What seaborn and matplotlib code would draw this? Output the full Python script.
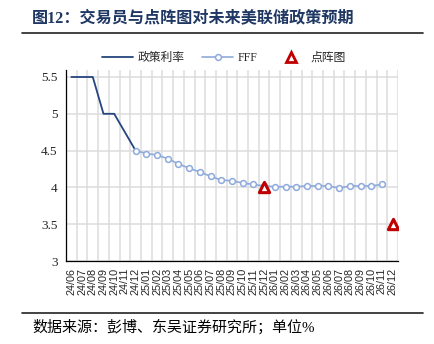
import numpy as np
import pandas as pd
import matplotlib
matplotlib.use("Agg")
import matplotlib.pyplot as plt
from matplotlib.lines import Line2D
import seaborn as sns

# Month labels on the category axis
months = ["24/06", "24/07", "24/08", "24/09", "24/10", "24/11", "24/12",
          "25/01", "25/02", "25/03", "25/04", "25/05", "25/06", "25/07",
          "25/08", "25/09", "25/10", "25/11", "25/12",
          "26/01", "26/02", "26/03", "26/04", "26/05", "26/06", "26/07",
          "26/08", "26/09", "26/10", "26/11", "26/12"]

# Fed funds target upper bound (realised)
policy_months = ["24/06", "24/07", "24/08", "24/09", "24/10", "24/11", "24/12"]
policy_rate = [5.5, 5.5, 5.5, 5.0, 5.0, 4.75, 4.5]

# Fed funds futures implied path
fff_months = ["24/12", "25/01", "25/02", "25/03", "25/04", "25/05", "25/06",
              "25/07", "25/08", "25/09", "25/10", "25/11", "25/12",
              "26/01", "26/02", "26/03", "26/04", "26/05", "26/06",
              "26/07", "26/08", "26/09", "26/10", "26/11"]
fff_rate = [4.50, 4.46, 4.44, 4.39, 4.32, 4.26, 4.21, 4.15, 4.10, 4.09,
            4.06, 4.04, 4.02, 4.01, 4.01, 4.01, 4.02, 4.02, 4.02, 3.99,
            4.02, 4.02, 4.02, 4.04]

# FOMC dot plot medians (upper bound)
dot_months = ["25/12", "26/12"]
dot_rate = [4.0, 3.5]

y_ticks = [3, 3.5, 4, 4.5, 5, 5.5]
y_tick_labels = ["3", "3.5", "4", "4.5", "5", "5.5"]

title = "图12：交易员与点阵图对未来美联储政策预期"
source = "数据来源：彭博、东吴证券研究所；单位%"

pos = {m: i for i, m in enumerate(months)}
df_policy = pd.DataFrame({"x": [pos[m] for m in policy_months], "y": policy_rate})
df_fff = pd.DataFrame({"x": [pos[m] for m in fff_months], "y": fff_rate})
df_dot = pd.DataFrame({"x": [pos[m] for m in dot_months], "y": dot_rate})

sns.set_style("white")
plt.rcParams["font.family"] = ["Liberation Serif", "Noto Sans CJK SC"]

navy = "#24457f"
light = "#8faadc"
red = "#c00000"
grid_c = "#dcdcdc"

W, H = 435, 344
fig = plt.figure(figsize=(W / 100, H / 100), dpi=100)
ax = fig.add_axes([66 / W, (H - 261) / H, (398 - 66) / W, (261 - 70) / H])

sns.lineplot(data=df_policy, x="x", y="y", ax=ax, color=navy, linewidth=1.3,
             zorder=3)
sns.lineplot(data=df_fff, x="x", y="y", ax=ax, color=light, linewidth=1.2,
             marker="o", markersize=4.2, markerfacecolor="white",
             markeredgecolor=light, markeredgewidth=1.1, zorder=4)
sns.scatterplot(data=df_dot, x="x", y="y", ax=ax, marker="^", s=55,
                facecolor="white", edgecolor=red, linewidth=2.2, zorder=5)

n = len(months)
ax.set_xlim(-0.5, n - 0.5)
ax.set_ylim(3, 5.595)
ax.set_xticks(np.arange(n))
ax.set_xticklabels(months, rotation=90, fontsize=7.8,
                   family=["Liberation Sans", "DejaVu Sans"])
ax.set_xticks(np.arange(n + 1) - 0.5, minor=True)
ax.set_yticks(y_ticks)
ax.set_yticklabels(y_tick_labels, fontsize=9.5)
ax.set_xlabel("")
ax.set_ylabel("")

ax.tick_params(axis="x", which="major", length=0, pad=5)
ax.tick_params(axis="x", which="minor", length=3, width=0.8, direction="out",
               color="black")
ax.tick_params(axis="y", length=3, width=0.8, direction="out", color="black",
               pad=3)

ax.grid(False)
ax.xaxis.grid(True, which="minor", color=grid_c, linewidth=1.1)
ax.yaxis.grid(True, which="major", color=grid_c, linewidth=1.1)
ax.set_axisbelow(True)

for s in ["top", "right"]:
    ax.spines[s].set_visible(False)
for s in ["left", "bottom"]:
    ax.spines[s].set_color("black")
    ax.spines[s].set_linewidth(0.9)

handles = [
    Line2D([], [], color=navy, linewidth=1.3),
    Line2D([], [], color=light, linewidth=1.2, marker="o", markersize=4.2,
           markerfacecolor="white", markeredgecolor=light, markeredgewidth=1.1),
    Line2D([], [], linestyle="none", marker="^", markersize=7.5,
           markerfacecolor="white", markeredgecolor=red, markeredgewidth=2.0),
]
fig.legend(handles, ["政策利率", "FFF", "点阵图"], loc="center",
           bbox_to_anchor=(224 / W, 1 - 58 / H), ncol=3, frameon=False,
           fontsize=8.5, handlelength=2.6, handletextpad=0.4,
           columnspacing=1.5)

fig.text(32 / W, 1 - 18 / H, title, fontsize=11.6, fontweight="bold",
         color="#1f3763", ha="left", va="center")
fig.add_artist(Line2D([22 / W, 423 / W], [1 - 33 / H, 1 - 33 / H],
                      color="#222222", linewidth=1.2))
fig.add_artist(Line2D([22 / W, 423 / W], [1 - 313 / H, 1 - 313 / H],
                      color="#222222", linewidth=1.2))
fig.text(32 / W, 1 - 327 / H, source, fontsize=10.8, color="black",
         ha="left", va="center")

fig.savefig("out.png", dpi=100)
